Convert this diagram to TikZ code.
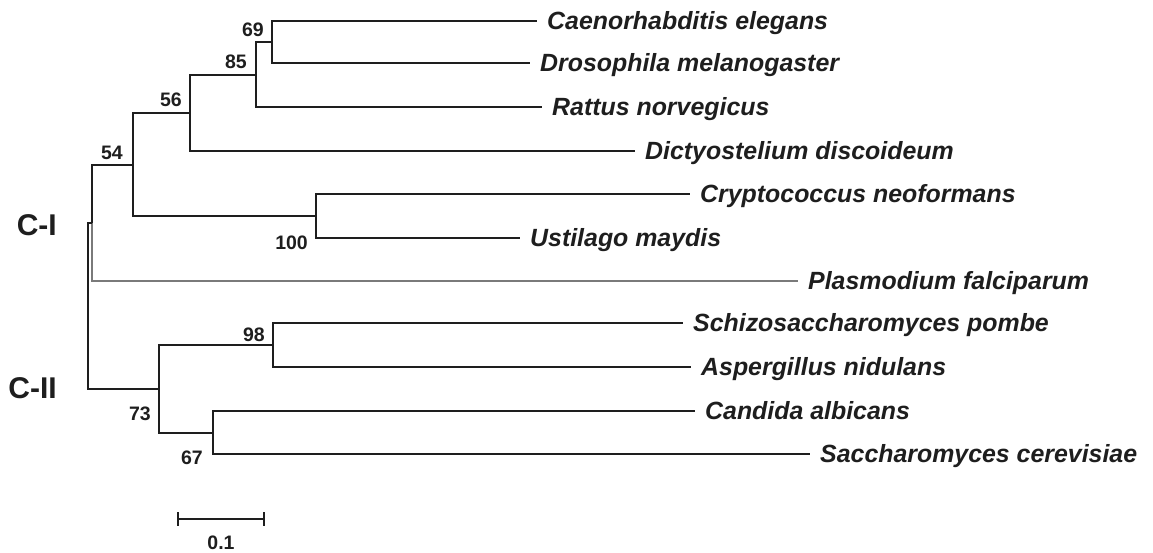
\documentclass[tikz,border=0pt]{standalone}
\usepackage{fontspec}
\setsansfont{Liberation Sans}
\usetikzlibrary{positioning}
\definecolor{ink}{HTML}{1E1E1E}
\definecolor{faint}{HTML}{7A7A7A}
\tikzset{
  branch/.style={draw=ink,line width=1.6pt},
  thinbranch/.style={draw=faint,line width=1.5pt},
  taxon/.style={anchor=base west,inner sep=0pt,xshift=10pt,yshift=-8.5pt,text=ink,
    font=\sffamily\bfseries\itshape\fontsize{24.9}{27}\selectfont},
  boot/.style={inner sep=0pt,text=ink,font=\sffamily\bfseries\fontsize{19.5}{21}\selectfont},
  clade/.style={anchor=east,inner sep=0pt,text=ink,font=\sffamily\bfseries\fontsize{30}{32}\selectfont}
}

\begin{document}
\begin{tikzpicture}[x=1pt,y=-1pt]
  \useasboundingbox (0,0) rectangle (1153,553);

  % tips
  \coordinate (caen) at (537,21);
  \coordinate (dros) at (530,63);
  \coordinate (ratt) at (542,107);
  \coordinate (dict) at (635,151);
  \coordinate (cryp) at (690,194);
  \coordinate (ust) at (520,238);
  \coordinate (plas) at (798,281);
  \coordinate (schiz) at (683,323);
  \coordinate (asp) at (691,367);
  \coordinate (cand) at (695,411);
  \coordinate (sacc) at (810,454);

  % internal nodes
  \coordinate (root) at (88,306);
  \coordinate (nci) at (92,223);
  \coordinate (n54) at (133,165);
  \coordinate (n56) at (190,113);
  \coordinate (n85) at (256,75);
  \coordinate (n69) at (272,42);
  \coordinate (n100) at (316,216);
  \coordinate (n73) at (159,389);
  \coordinate (n98) at (273,345);
  \coordinate (n67) at (213,433);

  \node[taxon] (caenlab) at (caen) {Caenorhabditis elegans};
  \node[taxon] (droslab) at (dros) {Drosophila melanogaster};
  \node[taxon] (rattlab) at (ratt) {Rattus norvegicus};
  \node[taxon] (dictlab) at (dict) {Dictyostelium discoideum};
  \node[taxon] (cryplab) at (cryp) {Cryptococcus neoformans};
  \node[taxon] (ustlab) at (ust) {Ustilago maydis};
  \node[taxon] (plaslab) at (plas) {Plasmodium falciparum};
  \node[taxon] (schizlab) at (schiz) {Schizosaccharomyces pombe};
  \node[taxon] (asplab) at (asp) {Aspergillus nidulans};
  \node[taxon] (candlab) at (cand) {Candida albicans};
  \node[taxon] (sacclab) at (sacc) {Saccharomyces cerevisiae};

  \draw[branch] (n69) |- (caen);
  \draw[branch] (n69) |- (dros);
  \draw[branch] (n85) |- (n69);
  \draw[branch] (n85) |- (ratt);
  \draw[branch] (n56) |- (n85);
  \draw[branch] (n56) |- (dict);
  \draw[branch] (n100) |- (cryp);
  \draw[branch] (n100) |- (ust);
  \draw[branch] (n54) |- (n56);
  \draw[branch] (n54) |- (n100);
  \draw[branch] (nci) |- (n54);
  \draw[thinbranch] (nci) |- (plas);
  \draw[branch] (n98) |- (schiz);
  \draw[branch] (n98) |- (asp);
  \draw[branch] (n67) |- (cand);
  \draw[branch] (n67) |- (sacc);
  \draw[branch] (n73) |- (n98);
  \draw[branch] (n73) |- (n67);
  \draw[branch] (root) |- (nci);
  \draw[branch] (root) |- (n73);

  \node[boot,anchor=base east] (b69) at ([shift={(-8,-5)}]n69) {69};
  \node[boot,anchor=base east] (b85) at ([shift={(-9,-6)}]n85) {85};
  \node[boot,anchor=base east] (b56) at ([shift={(-8,-6)}]n56) {56};
  \node[boot,anchor=base east] (b54) at ([shift={(-10,-5)}]n54) {54};
  \node[boot,anchor=north east,xshift=-8pt,yshift=2pt] (b100) at (n100 |- ust) {100};
  \node[boot,anchor=base east] (b98) at ([shift={(-8,-4)}]n98) {98};
  \node[boot,anchor=north east,xshift=-8pt,yshift=-18pt] (b73) at (n73) {73};
  \node[boot,anchor=north east,xshift=-10pt,yshift=3pt] (b67) at (n67 |- sacc) {67};

  \node[clade] (cilab) at (57,225) {C-I};
  \node[clade] (ciilab) at (57,388) {C-II};

  % scale bar
  \coordinate (sbl) at (178,519);
  \coordinate (sbr) at (264,519);
  \draw[branch] (sbl) -- node[boot,anchor=north,yshift=-16pt] (sblab) {0.1} (sbr);
  \draw[branch] ([yshift=7pt]sbl) -- ([yshift=-7pt]sbl);
  \draw[branch] ([yshift=7pt]sbr) -- ([yshift=-7pt]sbr);
\end{tikzpicture}
\end{document}
